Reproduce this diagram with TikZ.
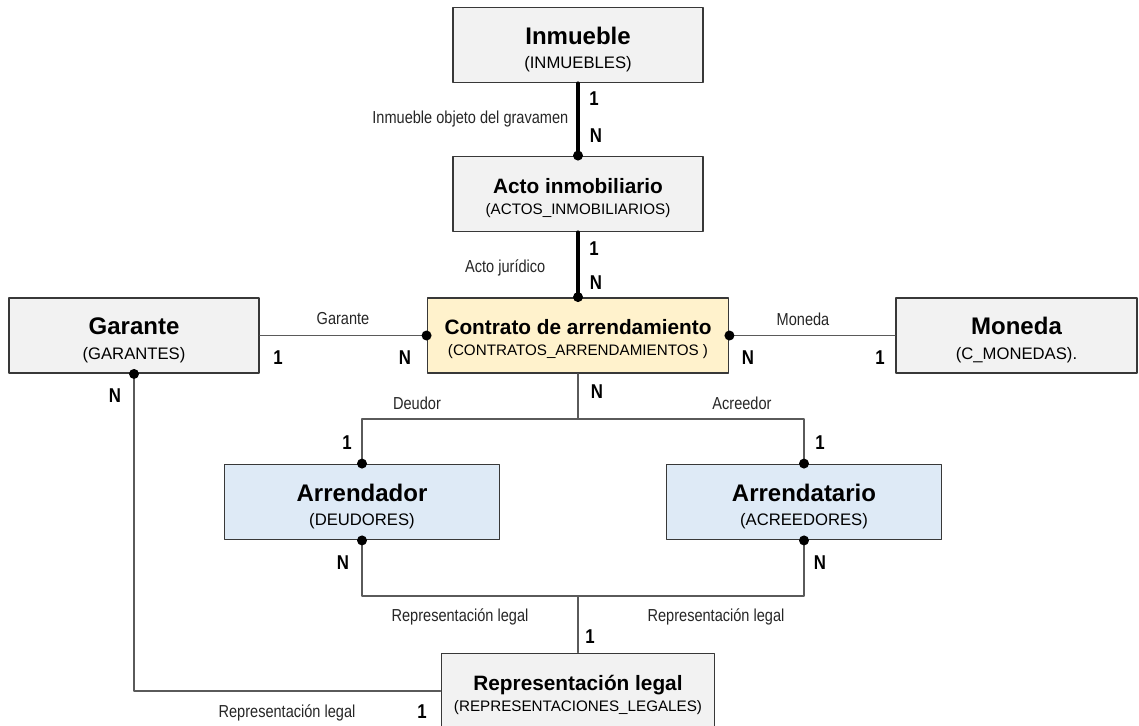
\documentclass[tikz,border=0pt]{standalone}
\usepackage{fontspec}
\setmainfont{Liberation Sans}
\newfontfamily\narrowfont[FakeStretch=0.84]{Liberation Sans}
\usetikzlibrary{positioning}
\definecolor{boxgray}{HTML}{F2F2F2}
\definecolor{boxyellow}{HTML}{FFF2CC}
\definecolor{boxblue}{HTML}{DEEAF6}
\definecolor{edgegray}{HTML}{383838}
\definecolor{linegray}{HTML}{5A5A5A}
% titulo grande / titulo reducido para los nombres largos
\newcommand{\tabla}[2]{{\fontsize{18}{20}\selectfont\bfseries\rule{0pt}{17pt}#1}\\[6.5pt]{\fontsize{12.5}{14}\selectfont #2}}
\newcommand{\tablar}[2]{{\fontsize{15.6}{18}\selectfont\bfseries\rule{0pt}{14.5pt}#1}\\[3.5pt]{\fontsize{11.4}{13}\selectfont #2}}
\begin{document}
\begin{tikzpicture}[x=0.75pt,y=-0.75pt,line join=round,line cap=round]
\tikzset{
  ent/.style={draw=edgegray,line width=1.4pt,align=center,inner sep=0pt,
    minimum height=56.25pt,text depth=-4pt},
  rel/.style={line width=3pt,black},
  link/.style={line width=0.9pt,linegray},
  lbl/.style={font={\fontsize{13}{15}\narrowfont},text=black!85},
  card/.style={font={\fontsize{15}{17}\narrowfont\bfseries}}
}
\useasboundingbox (0,0) rectangle (1139,725);
\node[ent,fill=boxgray,minimum width=187.5pt] (inm) at (578,45) {\tabla{Inmueble}{(INMUEBLES)}};
\node[ent,fill=boxgray,minimum width=187.5pt] (acto) at (578,194) {\tablar{Acto inmobiliario}{(ACTOS\_INMOBILIARIOS)}};
\node[ent,fill=boxyellow,minimum width=225.75pt] (contrato) at (578,335.5) {\tablar{Contrato de arrendamiento}{(CONTRATOS\_ARRENDAMIENTOS )}};
\node[ent,fill=boxgray,minimum width=187.5pt] (garante) at (134,335.5) {\tabla{Garante}{(GARANTES)}};
\node[ent,fill=boxgray,minimum width=180.75pt] (moneda) at (1016.5,335.5) {\tabla{Moneda}{(C\_MONEDAS).}};
\node[ent,fill=boxblue,minimum width=206.25pt] (arrendador) at (362,502) {\tabla{Arrendador}{(DEUDORES)}};
\node[ent,fill=boxblue,minimum width=206.25pt] (arrendatario) at (804,502) {\tabla{Arrendatario}{(ACREEDORES)}};
\node[ent,fill=boxgray,minimum width=204.75pt] (replegal) at (578,691) {\tablar{Representación legal}{(REPRESENTACIONES\_LEGALES)}};

\coordinate (split) at (578,419);
\coordinate (join) at (578,596);
\draw[rel] (inm) -- (acto);
\draw[rel] (acto) -- (contrato);
\draw[link] (garante) -- (contrato);
\draw[link] (contrato) -- (moneda);
\draw[link] (contrato) -- (split);
\draw[link] (arrendador.north) |- (split) -| (arrendatario.north);
\draw[link] (arrendador.south) |- (join) -| (arrendatario.south);
\draw[link] (join) -- (replegal);
\draw[link] (garante.south) |- (replegal.west);
\foreach \p in {acto.north,contrato.north,contrato.west,contrato.east,garante.south,
  arrendador.north,arrendador.south,arrendatario.north,arrendatario.south}
  \fill (\p) circle (3.75pt);

\node[lbl,anchor=east] (lgrav) at (573,119) {Inmueble objeto del gravamen};
\node[card] (c1) at (594,99) {1};
\node[card] (c2) at (596,136) {N};
\node[lbl,anchor=east] (ljur) at (550,268) {Acto jurídico};
\node[card] (c3) at (594,249) {1};
\node[card] (c4) at (596,283) {N};
\node[lbl] (lgar) at (343,319) {Garante};
\node[card] (c5) at (278,358) {1};
\node[card] (c6) at (405,358) {N};
\node[lbl] (lmon) at (803,319) {Moneda};
\node[card] (c7) at (748,358) {N};
\node[card] (c8) at (880,358) {1};
\node[card] (c9) at (115,396) {N};
\node[card] (c10) at (597,392) {N};
\node[lbl] (ldeu) at (417,403) {Deudor};
\node[lbl] (lacr) at (742,403) {Acreedor};
\node[card] (c11) at (347,443) {1};
\node[card] (c12) at (820,443) {1};
\node[card] (c13) at (343,563) {N};
\node[card] (c14) at (820,563) {N};
\node[lbl] (lrep1) at (460,617) {Representación legal};
\node[lbl] (lrep2) at (716,617) {Representación legal};
\node[card] (c15) at (590,637) {1};
\node[lbl] (lrep3) at (287,713) {Representación legal};
\node[card] (c16) at (422,712) {1};
\end{tikzpicture}
\end{document}
